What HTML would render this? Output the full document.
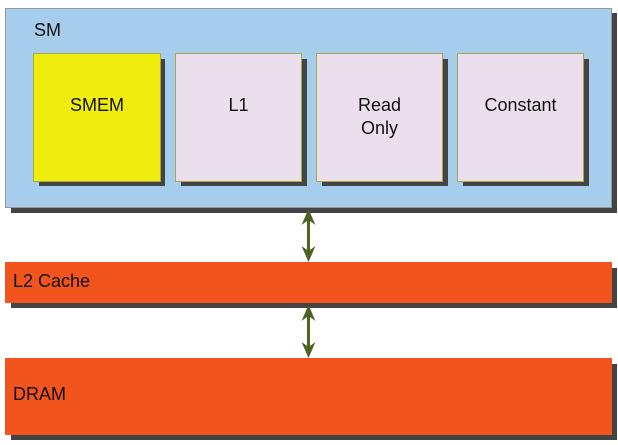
<!DOCTYPE html>
<html><head><style>
body{margin:0;width:618px;height:445px;background:#fff;position:relative;overflow:hidden;font-family:"Liberation Sans",sans-serif;color:#111}
.b{position:absolute;box-sizing:border-box}
.sh{position:absolute;background:#444}
.t{position:absolute;font-size:18px}
.c{text-align:center;font-size:18px;line-height:23px;padding-top:40px}
</style></head><body>
<div class="sh" style="left:11px;top:13px;width:606px;height:200px"></div>
<div class="b" style="left:5px;top:8px;width:607px;height:200px;background:#a7cdec;border:1px solid #999"></div>
<div class="t" style="left:34px;top:20px">SM</div>

<div class="sh" style="left:39px;top:59px;width:126px;height:127px"></div>
<div class="b c" style="left:33px;top:53px;width:128px;height:129px;background:#efec0e;border:1px solid #a8a848">SMEM</div>
<div class="sh" style="left:181px;top:59px;width:126px;height:127px"></div>
<div class="b c" style="left:175px;top:53px;width:127px;height:129px;background:#ebdfee;border:1px solid #a8a848">L1</div>
<div class="sh" style="left:322px;top:59px;width:126px;height:127px"></div>
<div class="b c" style="left:316px;top:53px;width:127px;height:129px;background:#ebdfee;border:1px solid #a8a848">Read<br>Only</div>
<div class="sh" style="left:463px;top:59px;width:126px;height:127px"></div>
<div class="b c" style="left:457px;top:53px;width:127px;height:129px;background:#ebdfee;border:1px solid #a8a848">Constant</div>

<div class="sh" style="left:11px;top:268px;width:606px;height:40px"></div>
<div class="b" style="left:5px;top:262px;width:607px;height:41px;background:#f1541c"></div>
<div class="t" style="left:13px;top:271px">L2 Cache</div>

<div class="sh" style="left:11px;top:364px;width:606px;height:76px"></div>
<div class="b" style="left:5px;top:358px;width:607px;height:77px;background:#f1541c"></div>
<div class="t" style="left:13px;top:384px">DRAM</div>

<svg width="618" height="445" style="position:absolute;left:0;top:0">
<g fill="#4a6322" stroke="#4a6322">
<line x1="308.5" y1="216" x2="308.5" y2="256" stroke-width="3"/>
<polygon points="308.5,209 301.5,225 308.5,220 315.5,225" stroke="none"/>
<polygon points="308.5,262 301.5,246 308.5,251 315.5,246" stroke="none"/>
<line x1="308.5" y1="312" x2="308.5" y2="351" stroke-width="3"/>
<polygon points="308.5,305 301.5,321 308.5,316 315.5,321" stroke="none"/>
<polygon points="308.5,358 301.5,342 308.5,347 315.5,342" stroke="none"/>
</g></svg>
</body></html>
